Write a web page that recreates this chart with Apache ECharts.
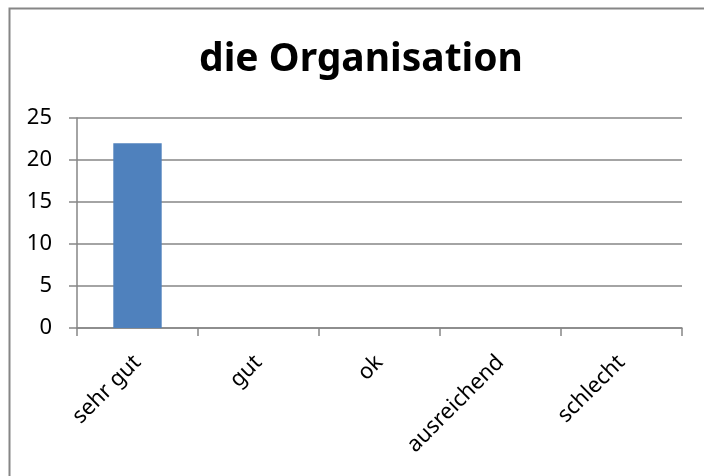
<!DOCTYPE html>
<html>
<head>
<meta charset="utf-8">
<script src="https://cdn.jsdelivr.net/npm/echarts@6/dist/echarts.min.js"></script>
<style>html,body{margin:0;padding:0;background:#fff;}#c{width:704px;height:476px;}</style>
</head>
<body>
<div id="c"></div>
<script>
var titleText = 'die Organisation';
var categories = ['sehr gut', 'gut', 'ok', 'ausreichend', 'schlecht'];
var values = [22, 0, 0, 0, 0];
var yMin = 0, yMax = 25, yInterval = 5;

var chart = echarts.init(document.getElementById('c'), null, {renderer: 'canvas'});
var font = 'Noto Sans';
chart.setOption({
  backgroundColor: '#fff',
  animation: false,
  graphic: [{
    type: 'rect', left: 7, top: 6, z: -1,
    shape: {width: 720, height: 500},
    style: {fill: 'none', stroke: '#868686', lineWidth: 2}
  }],
  title: {
    text: titleText, left: 356, top: 35, textAlign: 'center',
    textStyle: {fontFamily: font, fontWeight: 'bold', fontSize: 39, color: '#000'}
  },
  grid: {left: 77, right: 22, top: 118, bottom: 148},
  xAxis: {
    type: 'category', data: categories,
    axisLine: {lineStyle: {color: '#868686', width: 1.5}},
    axisTick: {show: true, length: 8, alignWithLabel: false, lineStyle: {color: '#868686', width: 1.5}},
    axisLabel: {rotate: 45, margin: 31, fontFamily: font, fontSize: 22, color: '#000', interval: 0}
  },
  yAxis: {
    type: 'value', min: yMin, max: yMax, interval: yInterval,
    axisLine: {show: true, lineStyle: {color: '#868686', width: 1.5}},
    axisTick: {show: true, length: 8, inside: false, lineStyle: {color: '#868686', width: 1.5}},
    splitLine: {lineStyle: {color: '#868686', width: 1.5}},
    axisLabel: {margin: 25, fontFamily: font, fontSize: 22, color: '#000'}
  },
  series: [{
    type: 'bar', data: values, barWidth: '40%',
    itemStyle: {color: '#4F81BD'}
  }]
});
</script>
</body>
</html>
